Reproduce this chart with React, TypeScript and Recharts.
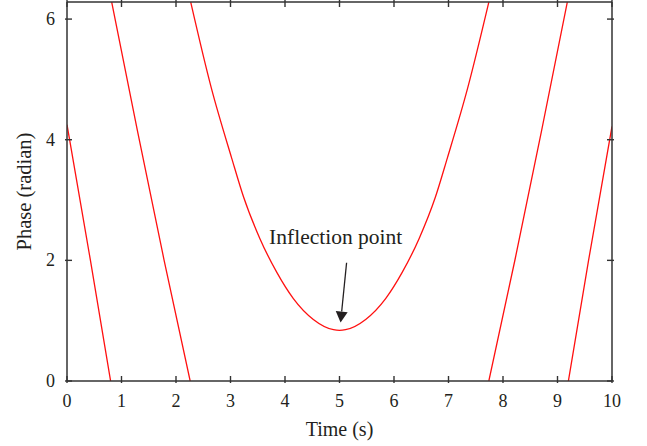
import { LineChart, Line, XAxis, YAxis, ReferenceLine, ReferenceDot } from "recharts";

// values (time in s, wrapped phase in radian)
const seg1Time = [0, 0.43, 0.8];
const seg1Phase = [4.25, 2.0, 0];

const seg2Time = [0.82, 1.29, 1.78, 2.26];
const seg2Phase = [6.28, 4.16, 2.01, 0];

const seg3Time = [2.27, 2.65, 3.02, 3.24, 3.54, 3.85, 4.15, 4.52, 4.89, 5.0, 5.11, 5.48, 5.85, 6.15, 6.46, 6.76, 6.98, 7.35, 7.74];
const seg3Phase = [6.28, 4.85, 3.7, 3.05, 2.36, 1.8, 1.37, 1.02, 0.85, 0.84, 0.85, 1.02, 1.37, 1.8, 2.36, 3.05, 3.7, 4.85, 6.28];

const seg4Time = [7.74, 8.22, 8.71, 9.18];
const seg4Phase = [0, 2.01, 4.16, 6.28];

const seg5Time = [9.2, 9.57, 10];
const seg5Phase = [0, 2.0, 4.22];

const xTicks = [0, 1, 2, 3, 4, 5, 6, 7, 8, 9, 10];
const yTicks = [0, 2, 4, 6];
const PHASE_MAX = 6.2832;

const annotationText = "Inflection point";
const annotationAt = { x: 4.93, y: 2.27 };
const arrowFrom = { x: 5.13, y: 1.96 };
const arrowTo = { x: 5.02, y: 0.97 };

const RED = "#ff1010";
const INK = "#231f20";
const FRAME = "#333333";
const FONT = "'Liberation Serif', 'DejaVu Serif', serif";
const TICK_LEN = 7;

const segments = [
  [seg1Time, seg1Phase],
  [seg2Time, seg2Phase],
  [seg3Time, seg3Phase],
  [seg4Time, seg4Phase],
  [seg5Time, seg5Phase],
];
const keys = segments.map((_, i) => `s${i}`);

// one row per point, only its own segment key is filled -> gaps between segments
const rows = segments.flatMap(([ts, ps], k) =>
  ts.map((t, i) => ({ t, [keys[k]]: ps[i] }))
);

function BottomTick(props: any) {
  const { x, y, payload } = props;
  return (
    <g>
      <line x1={x} x2={x} y1={y} y2={y - TICK_LEN} stroke={FRAME} strokeWidth={1.4} />
      <text x={x} y={y + 24} textAnchor="middle" fontSize={18} fill={INK}>
        {payload.value}
      </text>
    </g>
  );
}

function TopTick(props: any) {
  const { x, y } = props;
  return <line x1={x} x2={x} y1={y} y2={y + TICK_LEN} stroke={FRAME} strokeWidth={1.4} />;
}

function LeftTick(props: any) {
  const { x, y, payload } = props;
  return (
    <g>
      <line x1={x} x2={x + TICK_LEN} y1={y} y2={y} stroke={FRAME} strokeWidth={1.4} />
      <text x={x - 10} y={y + 6} textAnchor="end" fontSize={18} fill={INK}>
        {payload.value}
      </text>
    </g>
  );
}

function RightTick(props: any) {
  const { x, y } = props;
  return <line x1={x} x2={x - TICK_LEN} y1={y} y2={y} stroke={FRAME} strokeWidth={1.4} />;
}

function Arrow(props: any) {
  const { x1, y1, x2, y2 } = props;
  const dx = x2 - x1;
  const dy = y2 - y1;
  const len = Math.hypot(dx, dy) || 1;
  const ux = dx / len;
  const uy = dy / len;
  const head = 11;
  const half = 6;
  const bx = x2 - ux * head;
  const by = y2 - uy * head;
  const pts = `${x2},${y2} ${bx - uy * half},${by + ux * half} ${bx + uy * half},${by - ux * half}`;
  return (
    <g>
      <line x1={x1} y1={y1} x2={bx} y2={by} stroke={INK} strokeWidth={1.3} />
      <polygon points={pts} fill={INK} />
    </g>
  );
}

function Note(props: any) {
  const { cx, cy } = props;
  return (
    <text x={cx} y={cy} textAnchor="middle" fontSize={21.5} fill={INK}>
      {annotationText}
    </text>
  );
}

export default function App() {
  return (
    <div style={{ position: "absolute", left: 0, top: 0, fontFamily: FONT }}>
      <LineChart width={647} height={446} data={rows} margin={{ top: 1, right: 34, bottom: 0, left: 0 }}>
        <XAxis
          xAxisId="bottom"
          dataKey="t"
          type="number"
          domain={[0, 10]}
          allowDataOverflow
          ticks={xTicks}
          interval={0}
          height={65}
          tickSize={0}
          tickLine={false}
          tick={<BottomTick />}
          stroke={FRAME}
          strokeWidth={1.5}
          label={{ value: "Time (s)", position: "insideBottom", offset: 10, fill: INK, fontSize: 20 }}
        />
        <XAxis
          xAxisId="top"
          dataKey="t"
          orientation="top"
          type="number"
          domain={[0, 10]}
          allowDataOverflow
          ticks={xTicks}
          interval={0}
          height={1}
          tickSize={0}
          tickLine={false}
          tick={<TopTick />}
          stroke={FRAME}
          strokeWidth={1.5}
        />
        <YAxis
          yAxisId="left"
          type="number"
          domain={[0, PHASE_MAX]}
          allowDataOverflow
          ticks={yTicks}
          interval={0}
          width={67}
          tickSize={0}
          tickLine={false}
          tick={<LeftTick />}
          stroke={FRAME}
          strokeWidth={1.5}
          label={{
            value: "Phase (radian)",
            angle: -90,
            position: "insideLeft",
            offset: 24,
            fill: INK,
            fontSize: 20.5,
            style: { textAnchor: "middle" },
          }}
        />
        <YAxis
          yAxisId="right"
          orientation="right"
          type="number"
          domain={[0, PHASE_MAX]}
          allowDataOverflow
          ticks={yTicks}
          interval={0}
          width={1}
          tickSize={0}
          tickLine={false}
          tick={<RightTick />}
          stroke={FRAME}
          strokeWidth={1.5}
        />
        {keys.map((k) => (
          <Line
            key={k}
            xAxisId="bottom"
            yAxisId="left"
            dataKey={k}
            type="monotone"
            stroke={RED}
            strokeWidth={1.3}
            dot={false}
            activeDot={false}
            connectNulls={false}
            isAnimationActive={false}
          />
        ))}
        {/* invisible copy so the top / right frame axes get drawn */}
        <Line
          xAxisId="top"
          yAxisId="right"
          dataKey={keys[2]}
          stroke="none"
          dot={false}
          activeDot={false}
          legendType="none"
          isAnimationActive={false}
        />
        <ReferenceDot
          xAxisId="bottom"
          yAxisId="left"
          x={annotationAt.x}
          y={annotationAt.y}
          r={0}
          shape={Note}
        />
        <ReferenceLine
          xAxisId="bottom"
          yAxisId="left"
          segment={[arrowFrom, arrowTo]}
          shape={Arrow}
        />
      </LineChart>
    </div>
  );
}
